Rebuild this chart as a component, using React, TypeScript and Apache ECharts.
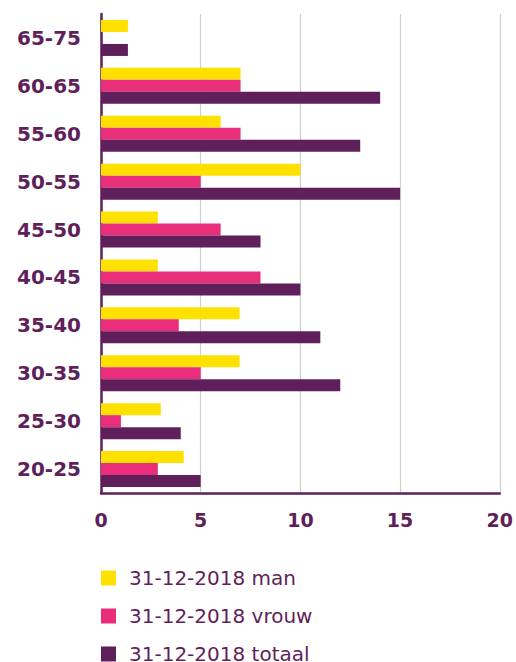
import React, { useEffect, useRef } from "react";
import * as echarts from "echarts";

const categories = ["65-75", "60-65", "55-60", "50-55", "45-50", "40-45", "35-40", "30-35", "25-30", "20-25"];
const seriesNames = ["31-12-2018 man", "31-12-2018 vrouw", "31-12-2018 totaal"];
const manValues = [1.35, 7, 6, 10, 2.85, 2.85, 6.95, 6.95, 3, 4.15];
const vrouwValues = [0, 7, 7, 5, 6, 8, 3.9, 5, 1, 2.85];
const totaalValues = [1.35, 14, 13, 15, 8, 10, 11, 12, 4, 5];
const xTicks = [0, 5, 10, 15, 20];

const PURPLE = "#5F1F5B";
const PINK = "#E82E7A";
const YELLOW = "#FFE100";

export default function App() {
  const ref = useRef<HTMLDivElement>(null);
  useEffect(() => {
    if (!ref.current) return;
    const chart = echarts.init(ref.current, undefined, { renderer: "svg" });
    const font = "'DejaVu Sans', sans-serif";
    const mk = (name: string, data: number[], color: string) => ({
      name,
      type: "bar",
      data,
      barWidth: 12,
      barGap: "0%",
      itemStyle: { color },
    });
    chart.setOption({
      animation: false,
      grid: { left: 101, right: 15, top: 14, bottom: 169, containLabel: false },
      legend: {
        orient: "vertical",
        left: 101,
        top: 568,
        height: 110,
        padding: 0,
        icon: "rect",
        itemWidth: 15,
        itemHeight: 15,
        itemGap: 18,
        data: seriesNames,
        textStyle: {
          fontFamily: font,
          fontSize: 20,
          lineHeight: 20,
          color: PURPLE,
          padding: [0, 0, 0, 8],
        },
      },
      xAxis: {
        type: "value",
        min: xTicks[0],
        max: xTicks[xTicks.length - 1],
        interval: 5,
        axisLine: { show: true, lineStyle: { color: PURPLE, width: 2.5 } },
        axisTick: { show: false },
        splitLine: { show: true, lineStyle: { color: "#cfcfcf", width: 1.2 } },
        axisLabel: {
          margin: 17,
          fontFamily: font,
          fontWeight: "bold",
          fontSize: 19,
          color: PURPLE,
        },
      },
      yAxis: {
        type: "category",
        data: categories,
        inverse: true,
        axisLine: { show: true, lineStyle: { color: PURPLE, width: 2.5 } },
        axisTick: { show: false },
        splitLine: { show: false },
        axisLabel: {
          margin: 20,
          fontFamily: font,
          fontWeight: "bold",
          fontSize: 20,
          color: PURPLE,
        },
      },
      series: [
        mk(seriesNames[0], manValues, YELLOW),
        mk(seriesNames[1], vrouwValues, PINK),
        mk(seriesNames[2], totaalValues, PURPLE),
      ],
    });
    return () => chart.dispose();
  }, []);
  return <div ref={ref} style={{ width: 516, height: 662, position: "absolute", left: 0, top: 0 }} />;
}
